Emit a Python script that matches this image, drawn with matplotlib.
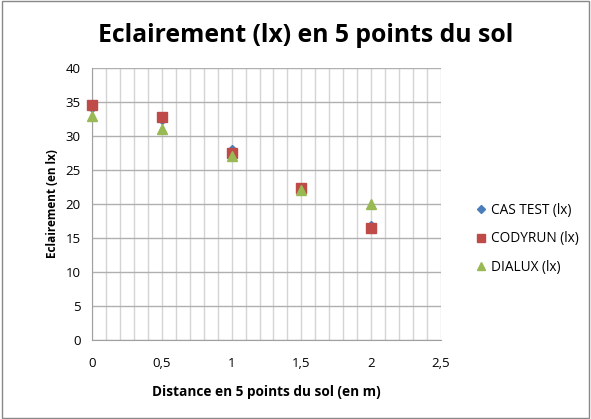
import matplotlib.pyplot as plt
from matplotlib.patches import Rectangle
from matplotlib.ticker import MultipleLocator, FuncFormatter

# values
distance = [0, 0.5, 1, 1.5, 2]
cas_test = [34.3, 32.5, 28.0, 22.2, 16.8]
codyrun = [34.5, 32.8, 27.5, 22.3, 16.5]
dialux = [33.0, 31.0, 27.0, 22.0, 20.0]

plt.rcParams['font.family'] = ['Open Sans', 'DejaVu Sans']

fig = plt.figure(figsize=(5.91, 4.19), dpi=100)
ax = fig.add_axes([0.1557, 0.1885, 0.5905, 0.6492])

ax.plot(distance, cas_test, 'D', color='#4A7EBB', markersize=5, label='CAS TEST (lx)', clip_on=False, zorder=3)
ax.plot(distance, codyrun, 's', color='#BE4B48', markersize=7, label='CODYRUN (lx)', clip_on=False, zorder=4)
ax.plot(distance, dialux, '^', color='#98B954', markersize=6.5, label='DIALUX (lx)', clip_on=False, zorder=5)

ax.set_xlim(0, 2.5)
ax.set_ylim(0, 40)
ax.xaxis.set_major_locator(MultipleLocator(0.5))
ax.xaxis.set_minor_locator(MultipleLocator(0.1))
ax.yaxis.set_major_locator(MultipleLocator(5))
ax.xaxis.set_major_formatter(FuncFormatter(lambda v, p: ('%g' % v).replace('.', ',')))
ax.grid(True, which='both', axis='x', color='#d4d4d4', linewidth=1)
ax.grid(True, which='major', axis='y', color='#b0b0b0', linewidth=1)
ax.set_axisbelow(True)
ax.tick_params(which='both', length=0, labelsize=9.5, colors='black')
ax.tick_params(axis='x', pad=12)
ax.tick_params(axis='y', pad=8)
for s in ['top', 'right']:
    ax.spines[s].set_visible(False)
for s in ['left', 'bottom']:
    ax.spines[s].set_color('#a0a0a0')

ax.set_xlabel('Distance en 5 points du sol (en m)', fontsize=9.8, fontweight='bold', labelpad=11)
ax.set_ylabel('Eclairement (en lx)', fontsize=8.5, fontweight='bold', labelpad=5)

fig.text(0.517, 0.915, 'Eclairement (lx) en 5 points du sol', fontsize=17.8, fontweight='bold',
         ha='center', va='center')

leg = ax.legend(loc='center left', bbox_to_anchor=(1.065, 0.372), frameon=False, fontsize=9.8,
                handlelength=0.7, handletextpad=0.4, labelspacing=1.0, markerscale=0.85)

fig.patches.append(Rectangle((0.003, 0.003), 0.994, 0.994, transform=fig.transFigure,
                             fill=False, edgecolor='#888888', linewidth=1))

fig.savefig('out.png', dpi=100)
